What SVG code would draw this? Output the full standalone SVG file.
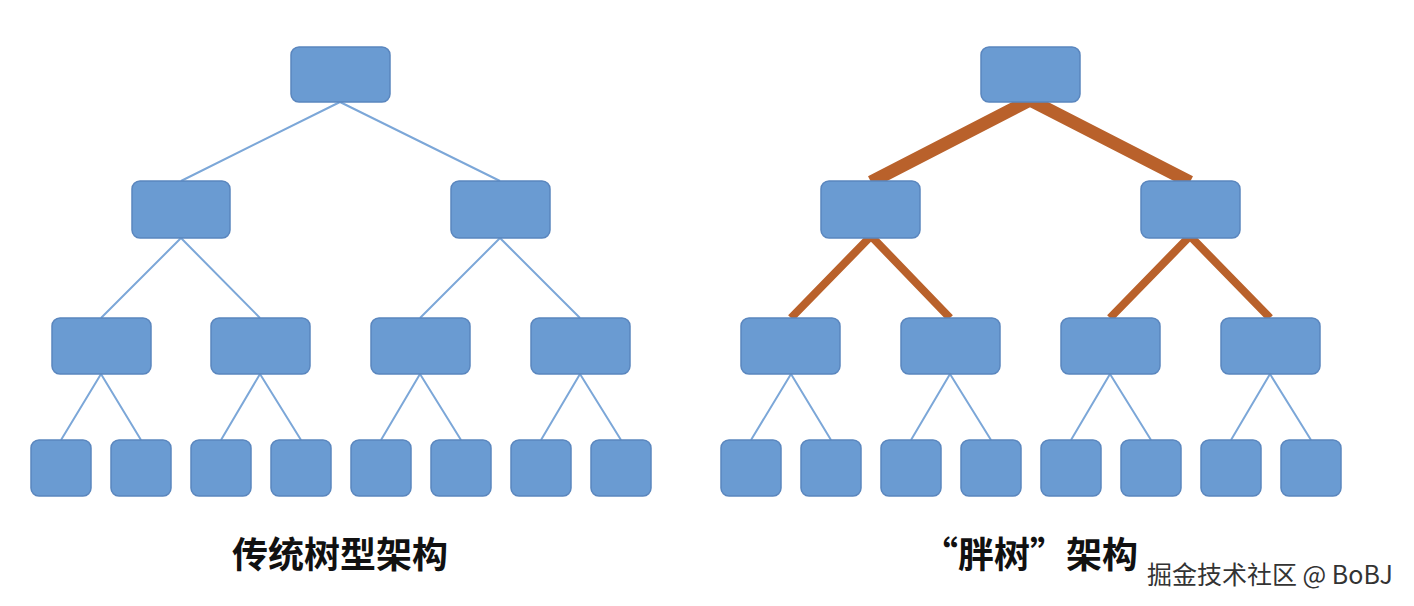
<svg xmlns="http://www.w3.org/2000/svg" width="1414" height="606" viewBox="0 0 1414 606">
<style>
.n{fill:#6A9BD2;stroke:#5A86BE;stroke-width:1.5}
.l{stroke:#7CA7D8;stroke-width:2;fill:none}
.b1{stroke:#B9612B;stroke-width:13;fill:none}
.b2{stroke:#B9612B;stroke-width:8;fill:none}
.t{font-family:"Noto Sans CJK SC","Noto Sans",sans-serif;font-weight:bold;font-size:36px;fill:#111;text-anchor:middle}
.w{font-family:"Noto Sans CJK SC","Noto Sans",sans-serif;font-size:25px;fill:#333}
</style>
<rect width="1414" height="606" fill="#fff"/>
<g id="connectors">
<path class="l" d="M340 102L181 181M340 102L500 181M181 238L101 318M181 238L260 318M500 238L420 318M500 238L580 318M101 374L61 440M101 374L141 440M260 374L221 440M260 374L301 440M420 374L381 440M420 374L461 440M580 374L541 440M580 374L621 440"/>
<path class="l" d="M791 374L751 440M791 374L831 440M950 374L911 440M950 374L991 440M1110 374L1071 440M1110 374L1151 440M1270 374L1231 440M1270 374L1311 440"/>
<path class="b1" d="M1030 100L871 182M1030 100L1190 182"/>
<path class="b2" d="M871 236L791 318M871 236L950 318M1190 236L1110 318M1190 236L1270 318"/>
</g>
<g id="left-tree">
<rect id="L0" class="n" x="291" y="47" width="99" height="55" rx="8"/>
<rect id="L1a" class="n" x="132" y="181" width="98" height="57" rx="8"/>
<rect id="L1b" class="n" x="451" y="181" width="99" height="57" rx="8"/>
<rect id="L2a" class="n" x="52" y="318" width="99" height="56" rx="8"/>
<rect id="L2b" class="n" x="211" y="318" width="99" height="56" rx="8"/>
<rect id="L2c" class="n" x="371" y="318" width="99" height="56" rx="8"/>
<rect id="L2d" class="n" x="531" y="318" width="99" height="56" rx="8"/>
<rect id="L3a" class="n" x="31" y="440" width="60" height="56" rx="8"/>
<rect id="L3b" class="n" x="111" y="440" width="60" height="56" rx="8"/>
<rect id="L3c" class="n" x="191" y="440" width="60" height="56" rx="8"/>
<rect id="L3d" class="n" x="271" y="440" width="60" height="56" rx="8"/>
<rect id="L3e" class="n" x="351" y="440" width="60" height="56" rx="8"/>
<rect id="L3f" class="n" x="431" y="440" width="60" height="56" rx="8"/>
<rect id="L3g" class="n" x="511" y="440" width="60" height="56" rx="8"/>
<rect id="L3h" class="n" x="591" y="440" width="60" height="56" rx="8"/>
</g>
<g id="right-tree">
<rect id="R0" class="n" x="981" y="47" width="99" height="55" rx="8"/>
<rect id="R1a" class="n" x="821" y="181" width="99" height="57" rx="8"/>
<rect id="R1b" class="n" x="1141" y="181" width="99" height="57" rx="8"/>
<rect id="R2a" class="n" x="741" y="318" width="99" height="56" rx="8"/>
<rect id="R2b" class="n" x="901" y="318" width="99" height="56" rx="8"/>
<rect id="R2c" class="n" x="1061" y="318" width="99" height="56" rx="8"/>
<rect id="R2d" class="n" x="1221" y="318" width="99" height="56" rx="8"/>
<rect id="R3a" class="n" x="721" y="440" width="60" height="56" rx="8"/>
<rect id="R3b" class="n" x="801" y="440" width="60" height="56" rx="8"/>
<rect id="R3c" class="n" x="881" y="440" width="60" height="56" rx="8"/>
<rect id="R3d" class="n" x="961" y="440" width="60" height="56" rx="8"/>
<rect id="R3e" class="n" x="1041" y="440" width="60" height="56" rx="8"/>
<rect id="R3f" class="n" x="1121" y="440" width="60" height="56" rx="8"/>
<rect id="R3g" class="n" x="1201" y="440" width="60" height="56" rx="8"/>
<rect id="R3h" class="n" x="1281" y="440" width="60" height="56" rx="8"/>
</g>
<text class="t" x="340" y="568">传统树型架构</text>
<text class="t" x="1030" y="568">“胖树”架构</text>
<text class="w" x="1147" y="584">掘金技术社区 @ BoBJ</text>
</svg>
